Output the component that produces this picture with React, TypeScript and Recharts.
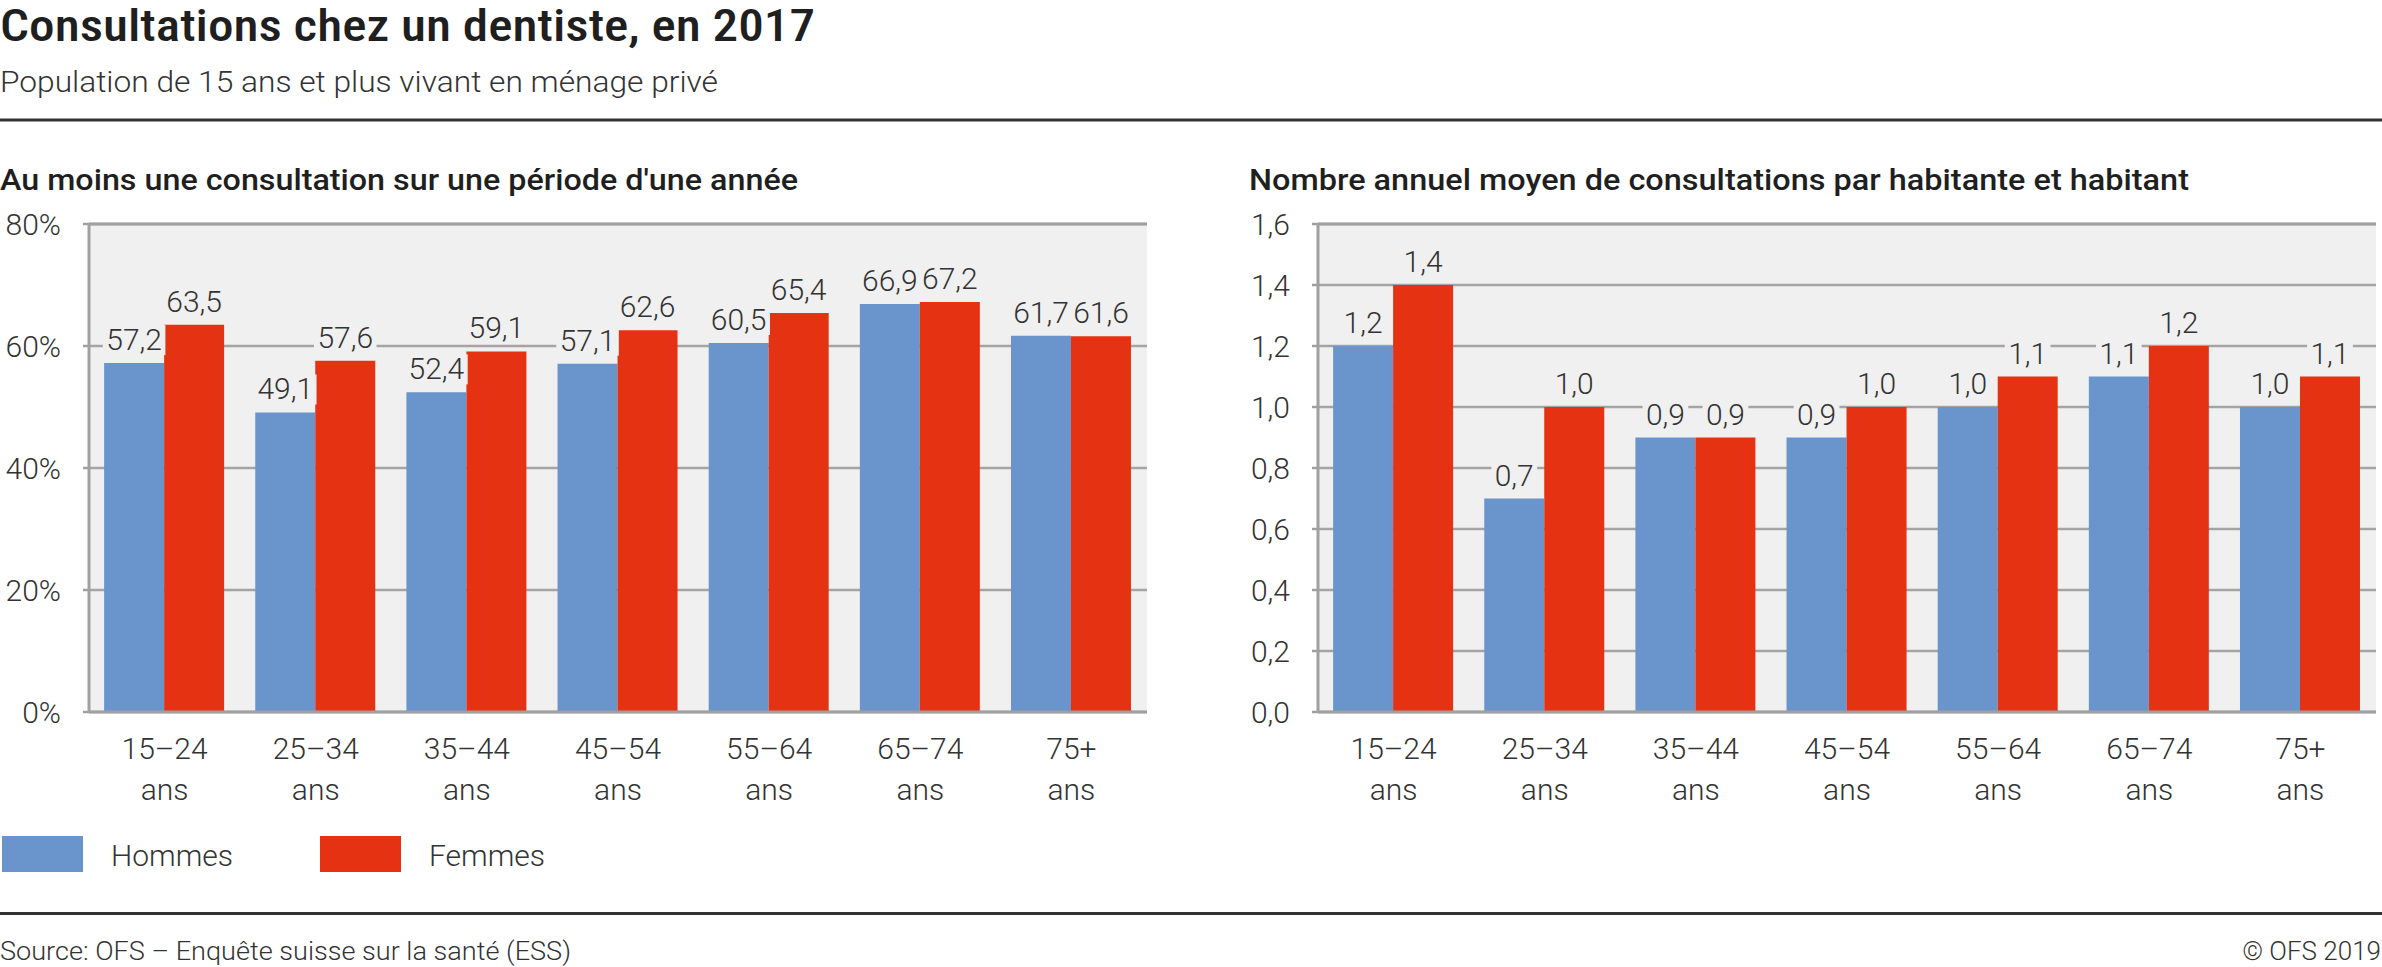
import React from 'react';
import {
  BarChart,
  Bar,
  XAxis,
  YAxis,
  CartesianGrid,
  LabelList,
  ReferenceLine,
} from 'recharts';

// ---------- data ----------
const CATEGORIES = ['15–24', '25–34', '35–44', '45–54', '55–64', '65–74', '75+'];
const CATEGORY_SUFFIX = 'ans';

const SERIES_NAMES = ['Hommes', 'Femmes'];

// Au moins une consultation sur une période d'une année (%)
const PCT_HOMMES = [57.2, 49.1, 52.4, 57.1, 60.5, 66.9, 61.7];
const PCT_FEMMES = [63.5, 57.6, 59.1, 62.6, 65.4, 67.2, 61.6];
const PCT_TICKS = [0, 20, 40, 60, 80];

// Nombre annuel moyen de consultations
const NB_HOMMES = [1.2, 0.7, 0.9, 0.9, 1.0, 1.1, 1.0];
const NB_FEMMES = [1.4, 1.0, 0.9, 1.0, 1.1, 1.2, 1.1];
const NB_TICKS = [0, 0.2, 0.4, 0.6, 0.8, 1.0, 1.2, 1.4, 1.6];

const TITLE = 'Consultations chez un dentiste, en 2017';
const SUBTITLE = 'Population de 15 ans et plus vivant en ménage privé';
const LEFT_TITLE = "Au moins une consultation sur une période d'une année";
const RIGHT_TITLE = 'Nombre annuel moyen de consultations par habitante et habitant';
const SOURCE = 'Source: OFS – Enquête suisse sur la santé (ESS)';
const COPYRIGHT = '© OFS 2019';

// ---------- styles ----------
const BLUE = '#6994cc';
const RED = '#e53213';
const PLOT_BG = '#f0f0f0';
const GRID = '#a4a4a4';
const AXIS = '#a0a0a0';
const TEXT = '#333333';
const FONT = 'Roboto, "Noto Sans", sans-serif';
const FS = 30;

const pctData = CATEGORIES.map((c, i) => ({ cat: c, h: PCT_HOMMES[i], f: PCT_FEMMES[i] }));
const nbData = CATEGORIES.map((c, i) => ({ cat: c, h: NB_HOMMES[i], f: NB_FEMMES[i] }));

const fmt1 = (v: number) => v.toFixed(1).replace('.', ',');
const fmtPct = (v: number) => `${v}%`;

const estWidth = (s: string, fs: number) => {
  let w = 0;
  for (const ch of s) {
    if (ch === ',' || ch === '.') w += 0.2;
    else w += 0.562;
  }
  return w * fs;
};

const renderLabel = (props: any) => {
  const { x, y, width, value } = props;
  if (value == null) return null;
  const cx = Number(x) + Number(width) / 2;
  const by = Number(y) - 13;
  const txt = fmt1(Number(value));
  const w = estWidth(txt, FS) + 6;
  return (
    <g>
      <rect x={cx - w / 2} y={by - 25} width={w} height={30} fill={PLOT_BG} />
      <text
        x={cx}
        y={by}
        textAnchor="middle"
        fontFamily={FONT}
        fontWeight={300}
        fontSize={FS}
        fill={TEXT}
      >
        {txt}
      </text>
    </g>
  );
};

const XTick = (props: any) => {
  const { x, y, payload } = props;
  return (
    <g transform={`translate(${x},${y})`}>
      <text
        x={0}
        y={47}
        textAnchor="middle"
        fontFamily={FONT}
        fontWeight={300}
        fontSize={FS}
        fill={TEXT}
      >
        {payload.value}
      </text>
      <text
        x={0}
        y={88}
        textAnchor="middle"
        fontFamily={FONT}
        fontWeight={300}
        fontSize={FS}
        fill={TEXT}
      >
        {CATEGORY_SUFFIX}
      </text>
    </g>
  );
};

type PanelProps = {
  data: any[];
  ticks: number[];
  max: number;
  tickFmt: (v: number) => string;
  left: number;
  width: number;
  yAxisWidth: number;
  rightMargin: number;
};

const CHART_H = 820;
const PLOT_TOP = 224;
const PLOT_BOTTOM = 712;

const Panel = ({ data, ticks, max, tickFmt, left, width, yAxisWidth, rightMargin }: PanelProps) => (
  <div style={{ position: 'absolute', left, top: 0, width, height: CHART_H }}>
    <BarChart
      width={width}
      height={CHART_H}
      data={data}
      margin={{ top: PLOT_TOP, right: rightMargin, bottom: 0, left: 0 }}
      barCategoryGap="10%"
      barGap={0}
    >
      <CartesianGrid
        vertical={false}
        fill={PLOT_BG}
        fillOpacity={1}
        stroke={GRID}
        strokeWidth={2.5}
        yAxisId="l"
      />
      <XAxis
        dataKey="cat"
        height={CHART_H - PLOT_BOTTOM}
        tickLine={false}
        tickSize={0}
        tickMargin={0}
        interval={0}
        axisLine={{ stroke: AXIS, strokeWidth: 3 }}
        tick={<XTick />}
      />
      <YAxis
        yAxisId="l"
        width={yAxisWidth}
        domain={[0, max]}
        ticks={ticks}
        interval={0}
        tickFormatter={tickFmt}
        tickSize={6}
        tickMargin={22}
        axisLine={{ stroke: AXIS, strokeWidth: 3 }}
        tickLine={{ stroke: AXIS, strokeWidth: 2.5 }}
        tick={{ fontFamily: FONT, fontWeight: 300, fontSize: FS, fill: TEXT }}
      />
      <YAxis
        yAxisId="r"
        orientation="right"
        width={0}
        domain={[0, max]}
        tick={false}
        tickLine={false}
        axisLine={{ stroke: AXIS, strokeWidth: 3 }}
      />
      <ReferenceLine yAxisId="l" y={max} stroke={AXIS} strokeWidth={3} ifOverflow="visible" />
      <Bar yAxisId="l" dataKey="h" name={SERIES_NAMES[0]} fill={BLUE} isAnimationActive={false}>
        <LabelList dataKey="h" content={renderLabel} />
      </Bar>
      <Bar yAxisId="l" dataKey="f" name={SERIES_NAMES[1]} fill={RED} isAnimationActive={false}>
        <LabelList dataKey="f" content={renderLabel} />
      </Bar>
    </BarChart>
  </div>
);

const Decor = () => (
  <svg
    width={2382}
    height={967}
    style={{ position: 'absolute', left: 0, top: 0 }}
    fontFamily={FONT}
  >
    <text
      x={0}
      y={41}
      fontFamily={'"Roboto Condensed", Roboto, sans-serif'}
      fontWeight={500}
      fontSize={44}
      fill="#1f1f1f"
      textLength={815}
      lengthAdjust="spacingAndGlyphs"
    >
      {TITLE}
    </text>
    <text
      x={0}
      y={92}
      fontWeight={300}
      fontSize={30}
      fill={TEXT}
      textLength={718}
      lengthAdjust="spacingAndGlyphs"
    >
      {SUBTITLE}
    </text>
    <rect x={0} y={118.5} width={2382} height={3} fill="#333333" />
    <text
      x={0}
      y={190}
      fontWeight={500}
      fontSize={29}
      fill="#1f1f1f"
      textLength={798}
      lengthAdjust="spacingAndGlyphs"
    >
      {LEFT_TITLE}
    </text>
    <text
      x={1249}
      y={190}
      fontWeight={500}
      fontSize={29}
      fill="#1f1f1f"
      textLength={940}
      lengthAdjust="spacingAndGlyphs"
    >
      {RIGHT_TITLE}
    </text>

    {/* legend */}
    <rect x={2} y={836} width={81} height={36} fill={BLUE} />
    <text x={111} y={866} fontWeight={300} fontSize={FS} fill={TEXT}>
      {SERIES_NAMES[0]}
    </text>
    <rect x={320} y={836} width={81} height={36} fill={RED} />
    <text x={429} y={866} fontWeight={300} fontSize={FS} fill={TEXT}>
      {SERIES_NAMES[1]}
    </text>

    <rect x={0} y={912} width={2382} height={3} fill="#333333" />
    <text x={0} y={960} fontWeight={300} fontSize={26} fill={TEXT} textLength={571} lengthAdjust="spacingAndGlyphs">
      {SOURCE}
    </text>
    <text x={2381} y={960} fontWeight={300} fontSize={26} fill={TEXT} textAnchor="end">
      {COPYRIGHT}
    </text>
  </svg>
);

export default function App() {
  return (
    <div
      style={{
        position: 'absolute',
        left: 0,
        top: 0,
        width: 2382,
        height: 967,
        background: '#ffffff',
        overflow: 'hidden',
        fontFamily: FONT,
      }}
    >
      <Decor />
      <Panel
        data={pctData}
        ticks={PCT_TICKS}
        max={80}
        tickFmt={fmtPct}
        left={0}
        width={1160}
        yAxisWidth={89}
        rightMargin={13}
      />
      <Panel
        data={nbData}
        ticks={NB_TICKS}
        max={1.6}
        tickFmt={fmt1}
        left={1240}
        width={1142}
        yAxisWidth={78}
        rightMargin={6}
      />
    </div>
  );
}
